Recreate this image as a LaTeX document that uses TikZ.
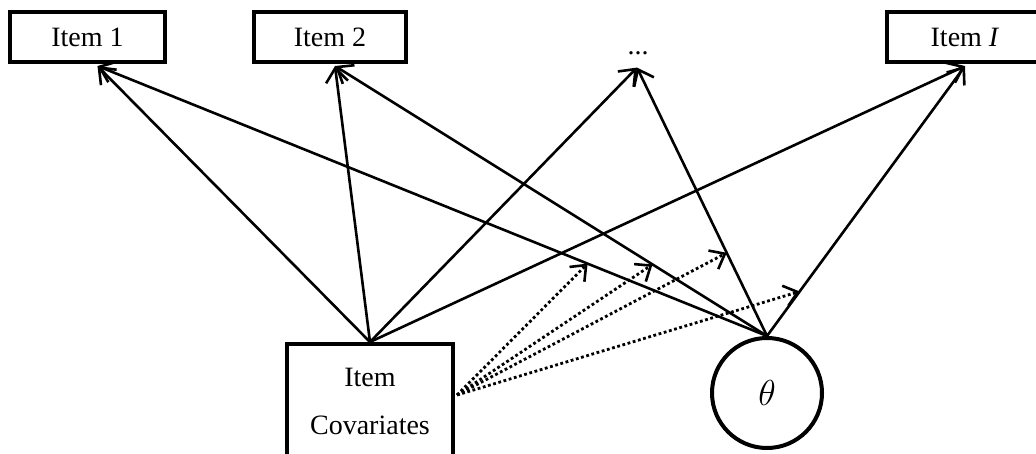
\documentclass[tikz,border=0pt]{standalone}
\usepackage{fontspec}
\setmainfont{Liberation Serif}
\usetikzlibrary{arrows.meta,calc}
\begin{document}
\begin{tikzpicture}[x=1pt,y=-1pt,
  every node/.style={font=\fontsize{28}{48}\selectfont},
  itembox/.style={draw,line width=4pt,rectangle,minimum height=50pt,inner sep=0pt},
  latent/.style={draw,line width=4pt,circle,minimum size=110pt,inner sep=0pt},
  path/.style={line width=2.6pt,-{Straight Barb[length=14pt,width=22pt,line width=2.6pt]}},
  moderator/.style={line width=2.8pt,dash pattern=on 2.8pt off 2.6pt,
    -{Straight Barb[length=13pt,width=21pt,line width=2.6pt]}}]
\useasboundingbox (0,0) rectangle (1036,454);

% observed items
\node[itembox,minimum width=155pt] (i1) at (87.5,37) {\raisebox{-3pt}{Item 1}};
\node[itembox,minimum width=152pt] (i2) at (330,37) {\raisebox{-3pt}{Item 2}};
\node[inner sep=0pt,anchor=base] (dots) at (638,55) {...};
\node[itembox,minimum width=156pt] (iI) at (965,37) {\raisebox{-3pt}{Item \textit{I}}};

% predictors
\node[draw,line width=4pt,rectangle,minimum width=166pt,minimum height=114pt,
  inner sep=0pt,align=center] (cov) at (370,401) {Item\\Covariates};
\node[latent] (theta) at (767,393) {\scalebox{1.45}{$\theta$}};

% arrow end points just below the item boxes
\coordinate (t1) at ([xshift=10pt,yshift=-2pt]i1.south);
\coordinate (t2) at ([xshift=5pt,yshift=-2pt]i2.south);
\coordinate (t3) at ([xshift=-1pt,yshift=-12pt]dots.south);
\coordinate (tI) at ([yshift=-2pt]iI.south);

% item covariate effects
\foreach \t in {t1,t2,t3,tI} \draw[path] (cov.north) -- (\t);
% ability effects
\foreach \t in {t1,t2,t3,tI} \draw[path] (theta.north) -- (\t);

% points on the ability paths that the covariates moderate
\coordinate (m1) at ($(theta.north)!0.268!(t1)$);
\coordinate (m2) at ($(theta.north)!0.265!(t2)$);
\coordinate (m3) at ($(theta.north)!0.31!(t3)$);
\coordinate (mI) at ($(theta.north)!0.165!(tI)$);
\coordinate (c0) at ([xshift=2pt,yshift=6pt]cov.east);

\foreach \m in {m1,m2,m3,mI} \draw[moderator] (c0) -- (\m);
\end{tikzpicture}
\end{document}
